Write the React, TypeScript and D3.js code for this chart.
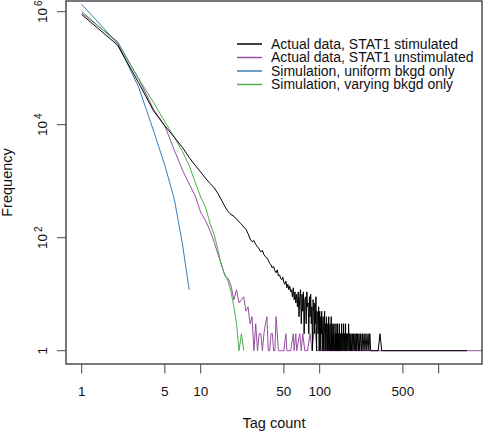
import React, { useEffect } from 'react';
import * as d3 from 'd3';

type Pt = [number, number];

// Tag count -> frequency, STAT1 stimulated (actual data)
const stimulated: Pt[] = [
  [1, 890000], [2, 257000], [3, 56000], [4, 17800], [5, 9500], [6, 6000], [7, 4000], [8, 2630],
  [9, 1900], [10, 1450], [11, 1120], [12, 910], [13, 760], [14, 600], [15, 457], [16, 355],
  [17, 288], [18, 257], [19, 240], [20, 214], [21, 190], [22, 174], [23, 155], [24, 141],
  [25, 118], [26, 95], [27, 85], [28, 89], [29, 76], [30, 69], [31, 63], [32, 56], [33, 60],
  [34, 50], [35, 46], [36, 44], [37, 40], [38, 35], [39, 33], [40, 29], [41, 31], [42, 26],
  [43, 24], [44, 27], [45, 21], [46, 22], [47, 19], [48, 18], [49, 20], [50, 16], [51, 15],
  [52, 17], [53, 13], [54, 15], [55, 12], [56, 14], [57, 11], [58, 12], [59, 9], [60, 13],
  [61, 8], [62, 11], [63, 7], [64, 10], [65, 6], [66, 11], [67, 4], [68, 9], [69, 12], [70, 3],
  [71, 10], [72, 5], [73, 11], [74, 2], [75, 8], [76, 9], [77, 3], [78, 11], [79, 6], [80, 7],
  [81, 2], [82, 9], [83, 4], [84, 10], [85, 3], [86, 6], [87, 1], [88, 8], [89, 5], [90, 2],
  [91, 7], [92, 3], [93, 9], [94, 1], [95, 5], [96, 4], [97, 2], [98, 6], [99, 1], [100, 5],
  [101, 1], [102, 4], [103, 2], [104, 5], [105, 1], [106, 3], [107, 4], [108, 1], [109, 2],
  [110, 5], [111, 1], [112, 3], [113, 1], [114, 4], [115, 2], [116, 1], [117, 3], [118, 1],
  [119, 4], [120, 2], [121, 1], [122, 3], [123, 1], [124, 1], [125, 4], [126, 1], [127, 2],
  [128, 1], [129, 3], [130, 1], [131, 2], [132, 3], [133, 1], [134, 1], [135, 2], [136, 1],
  [137, 3], [138, 1], [139, 2], [140, 1], [141, 3], [142, 1], [143, 2], [144, 1], [145, 1],
  [146, 3], [147, 1], [148, 2], [149, 1], [150, 2], [151, 1], [153, 3], [154, 1], [156, 2],
  [157, 1], [159, 3], [160, 1], [162, 2], [163, 1], [165, 3], [166, 1], [168, 2], [169, 1],
  [171, 2], [173, 1], [175, 3], [177, 1], [179, 2], [181, 1], [183, 2], [185, 1], [188, 2],
  [190, 1], [193, 2], [195, 1], [198, 2], [200, 1], [203, 2], [205, 1], [208, 2], [211, 1],
  [214, 2], [217, 1], [221, 2], [224, 1], [228, 2], [231, 1], [236, 2], [240, 1], [245, 2],
  [249, 1], [255, 2], [259, 1], [264, 2], [268, 1], [310, 1], [321, 2], [332, 1], [1730, 1],
];

// STAT1 unstimulated (actual data)
const unstimulated: Pt[] = [
  [1, 950000], [2, 295000], [3, 66000], [4, 19000], [5, 9500], [6, 3550], [7, 1600], [8, 890],
  [9, 550], [10, 280], [11, 200], [12, 132], [13, 83], [14, 50], [15, 33], [16, 21], [17, 19],
  [18, 14], [19, 8], [20, 12], [21, 7], [22, 8], [23, 9], [24, 5], [25, 6], [26, 3], [27, 4],
  [28, 1], [29, 3], [30, 1], [31, 2], [32, 2], [33, 1], [34, 2], [35, 3], [36, 4], [37, 1],
  [38, 1], [39, 2], [40, 2], [41, 1], [42, 1], [43, 4], [44, 2], [45, 1], [48, 1], [50, 1],
  [52, 2], [53, 1], [57, 1], [60, 2], [61, 1], [63, 2], [64, 1], [68, 2], [70, 1], [72, 2],
  [75, 1], [79, 1], [83, 2], [86, 1], [91, 3], [95, 1], [100, 1], [2400, 1],
];

// Simulation, uniform background only
const uniformSim: Pt[] = [
  [1, 1350000], [2, 275000], [3, 47000], [4, 8000], [5, 1900], [6, 480], [7, 81], [8, 12],
];

// Simulation, varying background only
const varyingSim: Pt[] = [
  [1, 1020000], [2, 280000], [3, 66000], [4, 25000], [5, 11200], [6, 6000], [7, 3400],
  [8, 1900], [9, 950], [10, 525], [11, 340], [12, 178], [13, 112], [14, 60], [15, 31],
  [16, 22], [17, 17], [18, 11], [19, 6], [20, 3], [21, 1], [22, 2], [23, 1],
];

const xTickValues = [1, 5, 10, 50, 100, 500, 1000];
const xTickLabels = ['1', '5', '10', '50', '100', '500', ''];
const yTickValues = [1, 1e2, 1e4, 1e6];
const yTickExponents = ['', '2', '4', '6'];

const legendLabels = [
  'Actual data, STAT1 stimulated',
  'Actual data, STAT1 unstimulated',
  'Simulation, uniform bkgd only',
  'Simulation, varying bkgd only',
];
const legendColors = ['#000000', '#984EA3', '#377EB8', '#4DAF4A'];

const W = 483;
const H = 434;
const FL = 66, FR = 482, FT = 1, FB = 364;
const FONT = '"Liberation Sans", Arial, Helvetica, sans-serif';

export default function App() {
  useEffect(() => {
    document.body.style.margin = '0';
  }, []);

  const x = d3.scaleLog().domain([1, 1000]).range([81.7, 438.7]);
  const y = d3.scaleLog().domain([1, 1e6]).range([350.7, 11.7]);
  const line = d3
    .line<Pt>()
    .x((d) => x(d[0]))
    .y((d) => y(d[1]));

  const drawOrder: { data: Pt[]; color: string; w: number }[] = [
    { data: unstimulated, color: legendColors[1], w: 1 },
    { data: varyingSim, color: legendColors[3], w: 1 },
    { data: uniformSim, color: legendColors[2], w: 1 },
    { data: stimulated, color: legendColors[0], w: 1 },
  ];

  const legendX0 = 237, legendX1 = 262, legendTextX = 271;
  const legendY0 = 44, legendDy = 13.5;

  return (
    <svg
      width={W}
      height={H}
      viewBox={`0 0 ${W} ${H}`}
      style={{ position: 'absolute', left: 0, top: 0, background: '#fff' }}
      fontFamily={FONT}
    >
      <rect x={0} y={0} width={W} height={H} fill="#fff" />
      <defs>
        <clipPath id="plotclip">
          <rect x={FL} y={FT} width={FR - FL} height={FB - FT} />
        </clipPath>
      </defs>

      <g clipPath="url(#plotclip)" fill="none">
        {drawOrder.map((s, i) => (
          <path key={i} d={line(s.data) || ''} stroke={s.color} strokeWidth={s.w} strokeLinejoin="round" />
        ))}
      </g>

      {/* frame */}
      <rect x={FL} y={FT} width={FR - FL} height={FB - FT} fill="none" stroke="#222" strokeWidth={1.2} />

      {/* x axis */}
      {xTickValues.map((v, i) => (
        <g key={'xt' + i}>
          <line x1={x(v)} x2={x(v)} y1={FB} y2={FB + 9.5} stroke="#444" strokeWidth={1} />
          <text x={x(v)} y={396} textAnchor="middle" fontSize={13.5} fill="#111">
            {xTickLabels[i]}
          </text>
        </g>
      ))}
      <text x={(FL + FR) / 2} y={428} textAnchor="middle" fontSize={14.5} fill="#111">
        Tag count
      </text>

      {/* y axis */}
      {yTickValues.map((v, i) => (
        <g key={'yt' + i}>
          <line x1={FL - 9} x2={FL} y1={y(v)} y2={y(v)} stroke="#444" strokeWidth={1} />
          <text
            transform={`translate(46.7,${y(v)}) rotate(-90)`}
            textAnchor="middle"
            fontSize={13.5}
            fill="#111"
          >
            {yTickExponents[i] ? '10' : '1'}
            {yTickExponents[i] ? (
              <tspan dx={2} dy={-5} fontSize={10}>
                {yTickExponents[i]}
              </tspan>
            ) : null}
          </text>
        </g>
      ))}
      <text
        transform={`translate(12,${(FT + FB) / 2}) rotate(-90)`}
        textAnchor="middle"
        fontSize={14.5}
        fill="#111"
      >
        Frequency
      </text>

      {/* legend */}
      {legendLabels.map((lab, i) => (
        <g key={'lg' + i}>
          <line
            x1={legendX0}
            x2={legendX1}
            y1={legendY0 + i * legendDy}
            y2={legendY0 + i * legendDy}
            stroke={legendColors[i]}
            strokeWidth={1.5}
          />
          <text x={legendTextX} y={legendY0 + i * legendDy} dy="0.35em" fontSize={14} fill="#111">
            {lab}
          </text>
        </g>
      ))}
    </svg>
  );
}
